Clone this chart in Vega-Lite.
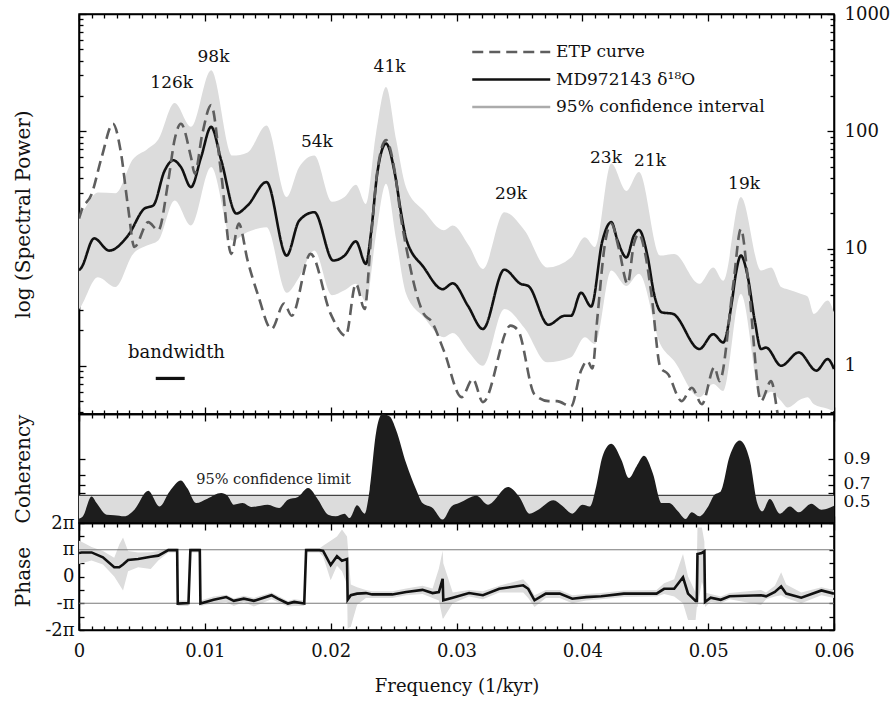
{
"$schema": "https://vega.github.io/schema/vega-lite/v6.json",
"padding": {"left": 12, "top": 4, "right": 5, "bottom": 5},
"spacing": 0,
"bounds": "flush",
"background": "white",
"config": {
  "font": "DejaVu Serif",
  "view": {"stroke": "#000", "strokeWidth": 1.5},
  "axis": {"grid": false, "domain": true, "domainColor": "#000", "domainWidth": 1.6, "tickColor": "#000", "tickWidth": 1.3, "labelFont": "DejaVu Serif", "labelFontSize": 18, "labelColor": "#111", "titleFont": "DejaVu Serif", "titleFontSize": 20, "titleFontWeight": "normal", "titleColor": "#111", "labelOverlap": false, "labelBound": false, "labelFlush": false, "zindex": 1},
  "legend": {"labelFont": "DejaVu Serif"}
},
"datasets": {
  "band": [
    {"f":0,"lo":3.0,"hi":19},{"f":0.0002,"lo":3.26,"hi":20},{"f":0.0015,"lo":5.7,"hi":30},{"f":0.0029,"lo":4.7,"hi":29.6},{"f":0.0043,"lo":9.0,"hi":58},{"f":0.0054,"lo":10.6,"hi":70},{"f":0.0063,"lo":11.7,"hi":85},{"f":0.0076,"lo":25.7,"hi":174},{"f":0.0089,"lo":15.7,"hi":109},{"f":0.0105,"lo":49.5,"hi":332},{"f":0.0122,"lo":11.7,"hi":62},{"f":0.0134,"lo":13.8,"hi":66},{"f":0.0149,"lo":15.2,"hi":112},{"f":0.0165,"lo":4.2,"hi":27.5},{"f":0.0175,"lo":5.7,"hi":49.5},{"f":0.0187,"lo":9.6,"hi":62},{"f":0.0201,"lo":4.0,"hi":25},{"f":0.0211,"lo":4.4,"hi":27.5},{"f":0.022,"lo":5.0,"hi":35},{"f":0.0228,"lo":3.5,"hi":24},{"f":0.0236,"lo":13,"hi":95},{"f":0.0244,"lo":35.6,"hi":239},{"f":0.0252,"lo":12,"hi":85},{"f":0.026,"lo":4.1,"hi":33},{"f":0.0274,"lo":2.6,"hi":21},{"f":0.029,"lo":1.75,"hi":14.3},{"f":0.0297,"lo":1.9,"hi":15.7},{"f":0.031,"lo":1.3,"hi":10.5},{"f":0.0321,"lo":1.0,"hi":6.7},{"f":0.0338,"lo":3.05,"hi":20.4},{"f":0.0354,"lo":2.1,"hi":14.3},{"f":0.0372,"lo":1.07,"hi":6.9},{"f":0.0391,"lo":1.18,"hi":8.4},{"f":0.0402,"lo":1.75,"hi":12.5},{"f":0.041,"lo":1.53,"hi":10.3},{"f":0.0423,"lo":6.5,"hi":53},{"f":0.0435,"lo":4.8,"hi":31},{"f":0.0445,"lo":6.1,"hi":45},{"f":0.0462,"lo":1.53,"hi":8.7},{"f":0.0473,"lo":1.1,"hi":9.0},{"f":0.0493,"lo":0.54,"hi":5.0},{"f":0.0504,"lo":0.7,"hi":6.9},{"f":0.0512,"lo":0.61,"hi":5.3},{"f":0.0526,"lo":4.1,"hi":27.5},{"f":0.0542,"lo":0.54,"hi":6.5},{"f":0.055,"lo":0.6,"hi":6.9},{"f":0.0558,"lo":0.5,"hi":4.7},{"f":0.0563,"lo":0.44,"hi":4.5},{"f":0.0574,"lo":0.52,"hi":4.1},{"f":0.0579,"lo":0.54,"hi":3.9},{"f":0.0584,"lo":0.47,"hi":2.77},{"f":0.0595,"lo":0.43,"hi":3.6},{"f":0.06,"lo":0.41,"hi":2.86}
  ],
  "spec": [
    {"s":"MD972143 δ¹⁸O","f":0,"P":6.5},{"s":"MD972143 δ¹⁸O","f":0.0002,"P":6.9},{"s":"MD972143 δ¹⁸O","f":0.0012,"P":12.2},{"s":"MD972143 δ¹⁸O","f":0.0024,"P":9.6},{"s":"MD972143 δ¹⁸O","f":0.0039,"P":12.9},{"s":"MD972143 δ¹⁸O","f":0.0052,"P":21.9},{"s":"MD972143 δ¹⁸O","f":0.0059,"P":23.3},{"s":"MD972143 δ¹⁸O","f":0.0068,"P":46},{"s":"MD972143 δ¹⁸O","f":0.0075,"P":56.6},{"s":"MD972143 δ¹⁸O","f":0.0081,"P":49.5},{"s":"MD972143 δ¹⁸O","f":0.0089,"P":33.4},{"s":"MD972143 δ¹⁸O","f":0.0097,"P":60},{"s":"MD972143 δ¹⁸O","f":0.0105,"P":109},{"s":"MD972143 δ¹⁸O","f":0.0113,"P":56.6},{"s":"MD972143 δ¹⁸O","f":0.0125,"P":19.9},{"s":"MD972143 δ¹⁸O","f":0.0134,"P":23.3},{"s":"MD972143 δ¹⁸O","f":0.0149,"P":36.9},{"s":"MD972143 δ¹⁸O","f":0.0165,"P":8.7},{"s":"MD972143 δ¹⁸O","f":0.0175,"P":17.3},{"s":"MD972143 δ¹⁸O","f":0.0187,"P":20.4},{"s":"MD972143 δ¹⁸O","f":0.0202,"P":7.9},{"s":"MD972143 δ¹⁸O","f":0.0211,"P":8.7},{"s":"MD972143 δ¹⁸O","f":0.022,"P":11.5},{"s":"MD972143 δ¹⁸O","f":0.0228,"P":7.4},{"s":"MD972143 δ¹⁸O","f":0.0232,"P":13.4},{"s":"MD972143 δ¹⁸O","f":0.0237,"P":43.5},{"s":"MD972143 δ¹⁸O","f":0.0244,"P":78.5},{"s":"MD972143 δ¹⁸O","f":0.0251,"P":43.5},{"s":"MD972143 δ¹⁸O","f":0.0256,"P":20},{"s":"MD972143 δ¹⁸O","f":0.026,"P":12.1},{"s":"MD972143 δ¹⁸O","f":0.0274,"P":6.9},{"s":"MD972143 δ¹⁸O","f":0.0289,"P":4.5},{"s":"MD972143 δ¹⁸O","f":0.0297,"P":5.05},{"s":"MD972143 δ¹⁸O","f":0.0309,"P":3.26},{"s":"MD972143 δ¹⁸O","f":0.0321,"P":2.06},{"s":"MD972143 δ¹⁸O","f":0.0338,"P":6.6},{"s":"MD972143 δ¹⁸O","f":0.0351,"P":5.0},{"s":"MD972143 δ¹⁸O","f":0.0357,"P":4.8},{"s":"MD972143 δ¹⁸O","f":0.0373,"P":2.24},{"s":"MD972143 δ¹⁸O","f":0.0386,"P":2.67},{"s":"MD972143 δ¹⁸O","f":0.0391,"P":2.67},{"s":"MD972143 δ¹⁸O","f":0.0399,"P":4.2},{"s":"MD972143 δ¹⁸O","f":0.0407,"P":3.2},{"s":"MD972143 δ¹⁸O","f":0.0416,"P":11.7},{"s":"MD972143 δ¹⁸O","f":0.0423,"P":16.8},{"s":"MD972143 δ¹⁸O","f":0.0428,"P":11.7},{"s":"MD972143 δ¹⁸O","f":0.0435,"P":8.4},{"s":"MD972143 δ¹⁸O","f":0.0441,"P":12.9},{"s":"MD972143 δ¹⁸O","f":0.0445,"P":14.4},{"s":"MD972143 δ¹⁸O","f":0.0452,"P":8.4},{"s":"MD972143 δ¹⁸O","f":0.0457,"P":4.1},{"s":"MD972143 δ¹⁸O","f":0.0463,"P":2.86},{"s":"MD972143 δ¹⁸O","f":0.0472,"P":2.77},{"s":"MD972143 δ¹⁸O","f":0.0493,"P":1.39},{"s":"MD972143 δ¹⁸O","f":0.0504,"P":1.86},{"s":"MD972143 δ¹⁸O","f":0.0512,"P":1.58},{"s":"MD972143 δ¹⁸O","f":0.0519,"P":3.6},{"s":"MD972143 δ¹⁸O","f":0.0522,"P":6.1},{"s":"MD972143 δ¹⁸O","f":0.0526,"P":8.7},{"s":"MD972143 δ¹⁸O","f":0.0531,"P":6.1},{"s":"MD972143 δ¹⁸O","f":0.0537,"P":2.43},{"s":"MD972143 δ¹⁸O","f":0.0542,"P":1.39},{"s":"MD972143 δ¹⁸O","f":0.0546,"P":1.43},{"s":"MD972143 δ¹⁸O","f":0.0558,"P":1.0},{"s":"MD972143 δ¹⁸O","f":0.0572,"P":1.3},{"s":"MD972143 δ¹⁸O","f":0.0586,"P":0.91},{"s":"MD972143 δ¹⁸O","f":0.0595,"P":1.14},{"s":"MD972143 δ¹⁸O","f":0.06,"P":0.94},
    {"s":"ETP curve","f":0,"P":18},{"s":"ETP curve","f":0.0002,"P":21},{"s":"ETP curve","f":0.001,"P":29},{"s":"ETP curve","f":0.0018,"P":60},{"s":"ETP curve","f":0.0027,"P":116},{"s":"ETP curve","f":0.0033,"P":69},{"s":"ETP curve","f":0.0039,"P":22.5},{"s":"ETP curve","f":0.0044,"P":10.3},{"s":"ETP curve","f":0.0055,"P":16.8},{"s":"ETP curve","f":0.0063,"P":14.3},{"s":"ETP curve","f":0.0071,"P":38},{"s":"ETP curve","f":0.0076,"P":85},{"s":"ETP curve","f":0.0081,"P":116},{"s":"ETP curve","f":0.0089,"P":60},{"s":"ETP curve","f":0.0092,"P":43.5},{"s":"ETP curve","f":0.0098,"P":95},{"s":"ETP curve","f":0.0105,"P":167},{"s":"ETP curve","f":0.0113,"P":43.5},{"s":"ETP curve","f":0.0121,"P":9.0},{"s":"ETP curve","f":0.0127,"P":16.3},{"s":"ETP curve","f":0.0134,"P":7.9},{"s":"ETP curve","f":0.0142,"P":4.1},{"s":"ETP curve","f":0.0153,"P":2.06},{"s":"ETP curve","f":0.0163,"P":3.4},{"s":"ETP curve","f":0.0169,"P":2.67},{"s":"ETP curve","f":0.0184,"P":9.0},{"s":"ETP curve","f":0.02,"P":2.77},{"s":"ETP curve","f":0.0212,"P":1.8},{"s":"ETP curve","f":0.022,"P":5.0},{"s":"ETP curve","f":0.0227,"P":3.05},{"s":"ETP curve","f":0.0232,"P":12},{"s":"ETP curve","f":0.0237,"P":45},{"s":"ETP curve","f":0.0244,"P":84},{"s":"ETP curve","f":0.0251,"P":45},{"s":"ETP curve","f":0.0256,"P":18},{"s":"ETP curve","f":0.026,"P":10.3},{"s":"ETP curve","f":0.0274,"P":2.77},{"s":"ETP curve","f":0.028,"P":2.4},{"s":"ETP curve","f":0.029,"P":1.34},{"s":"ETP curve","f":0.0304,"P":0.54},{"s":"ETP curve","f":0.0313,"P":0.77},{"s":"ETP curve","f":0.0321,"P":0.49},{"s":"ETP curve","f":0.0343,"P":2.2},{"s":"ETP curve","f":0.0349,"P":2.0},{"s":"ETP curve","f":0.0362,"P":0.57},{"s":"ETP curve","f":0.0373,"P":0.5},{"s":"ETP curve","f":0.038,"P":0.5},{"s":"ETP curve","f":0.0391,"P":0.45},{"s":"ETP curve","f":0.0399,"P":0.91},{"s":"ETP curve","f":0.0404,"P":1.1},{"s":"ETP curve","f":0.0408,"P":0.95},{"s":"ETP curve","f":0.0412,"P":2.6},{"s":"ETP curve","f":0.0418,"P":11},{"s":"ETP curve","f":0.0423,"P":16.3},{"s":"ETP curve","f":0.0429,"P":10},{"s":"ETP curve","f":0.0436,"P":5.0},{"s":"ETP curve","f":0.0441,"P":11},{"s":"ETP curve","f":0.0445,"P":13.3},{"s":"ETP curve","f":0.045,"P":9},{"s":"ETP curve","f":0.0455,"P":4},{"s":"ETP curve","f":0.0462,"P":0.97},{"s":"ETP curve","f":0.0468,"P":0.85},{"s":"ETP curve","f":0.0479,"P":0.5},{"s":"ETP curve","f":0.0487,"P":0.65},{"s":"ETP curve","f":0.0495,"P":0.47},{"s":"ETP curve","f":0.0505,"P":0.97},{"s":"ETP curve","f":0.0509,"P":0.74},{"s":"ETP curve","f":0.052,"P":5},{"s":"ETP curve","f":0.0526,"P":14.7},{"s":"ETP curve","f":0.0532,"P":5},{"s":"ETP curve","f":0.0542,"P":0.5},{"s":"ETP curve","f":0.055,"P":0.74},{"s":"ETP curve","f":0.0556,"P":0.35},{"s":"ETP curve","f":0.0565,"P":0.15},{"s":"ETP curve","f":0.06,"P":0.1}
  ],
  "peaks": [
    {"label":"126k","f":0.00737,"P":257},{"label":"98k","f":0.01069,"P":429},{"label":"54k","f":0.01891,"P":80.5},{"label":"41k","f":0.02468,"P":352},{"label":"29k","f":0.03433,"P":29},{"label":"23k","f":0.04188,"P":59.4},{"label":"21k","f":0.04538,"P":55.4},{"label":"19k","f":0.05285,"P":35.6}
  ],
  "bw": [{"label":"bandwidth","f":0.00775,"P":1.29,"f1":0.0061,"f2":0.0084,"Pb":0.78}],
  "coh": [
    {"f":0,"z":0.1},{"f":0.0003,"z":0.15},{"f":0.001,"z":0.61},{"f":0.0014,"z":0.46},{"f":0.0022,"z":0.19},{"f":0.0028,"z":0.176},{"f":0.0036,"z":0.153},{"f":0.0044,"z":0.306},{"f":0.0055,"z":0.74},{"f":0.0064,"z":0.38},{"f":0.0072,"z":0.725},{"f":0.0081,"z":0.976},{"f":0.0086,"z":0.8},{"f":0.0093,"z":0.457},{"f":0.0102,"z":0.558},{"f":0.0113,"z":0.686},{"f":0.0118,"z":0.626},{"f":0.0123,"z":0.42},{"f":0.013,"z":0.457},{"f":0.0137,"z":0.366},{"f":0.015,"z":0.42},{"f":0.0159,"z":0.343},{"f":0.0166,"z":0.535},{"f":0.0174,"z":0.594},{"f":0.0182,"z":0.8},{"f":0.019,"z":0.535},{"f":0.0198,"z":0.19},{"f":0.0204,"z":0.153},{"f":0.0211,"z":0.215},{"f":0.0215,"z":0.114},{"f":0.0221,"z":0.405},{"f":0.0227,"z":0.215},{"f":0.0231,"z":0.764},{"f":0.0236,"z":2.06},{"f":0.0241,"z":2.5},{"f":0.0247,"z":2.44},{"f":0.0252,"z":2.135},{"f":0.026,"z":1.37},{"f":0.0268,"z":0.764},{"f":0.0273,"z":0.457},{"f":0.0281,"z":0.343},{"f":0.0289,"z":0.078},{"f":0.0296,"z":0.38},{"f":0.0302,"z":0.457},{"f":0.0316,"z":0.626},{"f":0.0325,"z":0.42},{"f":0.0341,"z":0.823},{"f":0.035,"z":0.594},{"f":0.0358,"z":0.215},{"f":0.0365,"z":0.306},{"f":0.0377,"z":0.52},{"f":0.0384,"z":0.398},{"f":0.0392,"z":0.215},{"f":0.04,"z":0.42},{"f":0.0406,"z":0.38},{"f":0.0411,"z":0.84},{"f":0.0416,"z":1.525},{"f":0.0423,"z":1.815},{"f":0.0431,"z":1.45},{"f":0.0437,"z":1.03},{"f":0.0443,"z":1.296},{"f":0.0449,"z":1.54},{"f":0.0456,"z":1.143},{"f":0.0463,"z":0.457},{"f":0.0469,"z":0.457},{"f":0.0476,"z":0.267},{"f":0.0482,"z":0.092},{"f":0.0487,"z":0.245},{"f":0.0493,"z":0.153},{"f":0.05,"z":0.38},{"f":0.0505,"z":0.65},{"f":0.051,"z":0.725},{"f":0.0517,"z":1.525},{"f":0.0525,"z":1.89},{"f":0.0533,"z":1.45},{"f":0.0539,"z":0.457},{"f":0.0543,"z":0.267},{"f":0.0549,"z":0.55},{"f":0.0557,"z":0.215},{"f":0.0565,"z":0.38},{"f":0.0572,"z":0.245},{"f":0.0582,"z":0.443},{"f":0.059,"z":0.306},{"f":0.06,"z":0.398}
  ],
  "climit": [{"f":0,"z":0.633},{"f":0.06,"z":0.633}],
  "clabel": [{"label":"95% confidence limit","f":0.01546,"z":0.976}],
  "phase": [
    {"f":0,"p":0.88,"lo":0.47,"hi":1.34},{"f":0.0002,"p":0.9,"lo":0.5,"hi":1.3},{"f":0.001,"p":0.9,"lo":0.6,"hi":1.1},{"f":0.0019,"p":0.715,"lo":0.45,"hi":0.95},{"f":0.0028,"p":0.344,"lo":0.0,"hi":0.7},{"f":0.0032,"p":0.344,"lo":-0.3,"hi":1.2},{"f":0.0035,"p":0.45,"lo":-0.52,"hi":1.46},{"f":0.0039,"p":0.615,"lo":0.2,"hi":0.95},{"f":0.0047,"p":0.652,"lo":0.35,"hi":0.9},{"f":0.0057,"p":0.74,"lo":0.28,"hi":0.91},{"f":0.0063,"p":0.78,"lo":0.6,"hi":0.95},{"f":0.0071,"p":0.985,"lo":0.9,"hi":1.05},{"f":0.0078,"p":0.985,"lo":0.9,"hi":1.05},{"f":0.00785,"p":-1.01,"lo":-1.1,"hi":-0.9},{"f":0.0087,"p":-0.99,"lo":-1.1,"hi":-0.9},{"f":0.00885,"p":0.985,"lo":0.9,"hi":1.05},{"f":0.0096,"p":0.985,"lo":0.9,"hi":1.05},{"f":0.00965,"p":-1.01,"lo":-1.1,"hi":-0.9},{"f":0.0107,"p":-0.87,"lo":-1.0,"hi":-0.75},{"f":0.0117,"p":-0.77,"lo":-0.95,"hi":-0.68},{"f":0.0123,"p":-0.91,"lo":-1.1,"hi":-0.82},{"f":0.0131,"p":-0.83,"lo":-0.95,"hi":-0.72},{"f":0.0139,"p":-0.91,"lo":-1.12,"hi":-0.8},{"f":0.0153,"p":-0.7,"lo":-0.85,"hi":-0.6},{"f":0.0158,"p":-0.83,"lo":-0.95,"hi":-0.72},{"f":0.0166,"p":-1.01,"lo":-1.12,"hi":-0.92},{"f":0.0171,"p":-0.95,"lo":-1.1,"hi":-0.85},{"f":0.0179,"p":-1.01,"lo":-1.1,"hi":-0.9},{"f":0.01805,"p":0.985,"lo":0.9,"hi":1.05},{"f":0.0191,"p":0.985,"lo":0.9,"hi":1.05},{"f":0.0194,"p":0.96,"lo":0.75,"hi":1.15},{"f":0.02,"p":0.43,"lo":-0.14,"hi":1.34},{"f":0.0205,"p":0.76,"lo":0.4,"hi":1.5},{"f":0.0209,"p":0.59,"lo":0.2,"hi":1.76},{"f":0.0213,"p":0.65,"lo":-0.3,"hi":1.5},{"f":0.02135,"p":-0.87,"lo":-1.94,"hi":1.2},{"f":0.0216,"p":-0.7,"lo":-1.88,"hi":-0.3},{"f":0.0221,"p":-0.64,"lo":-1.06,"hi":-0.4},{"f":0.0228,"p":-0.62,"lo":-0.8,"hi":-0.5},{"f":0.0233,"p":-0.67,"lo":-0.8,"hi":-0.55},{"f":0.0249,"p":-0.67,"lo":-0.8,"hi":-0.55},{"f":0.026,"p":-0.58,"lo":-0.7,"hi":-0.45},{"f":0.0273,"p":-0.5,"lo":-0.65,"hi":-0.35},{"f":0.0281,"p":-0.62,"lo":-0.8,"hi":-0.45},{"f":0.0286,"p":-0.58,"lo":-0.9,"hi":0.3},{"f":0.0289,"p":-0.09,"lo":-1.57,"hi":0.96},{"f":0.02895,"p":-0.89,"lo":-1.57,"hi":0.5},{"f":0.0297,"p":-0.79,"lo":-1.0,"hi":-0.6},{"f":0.031,"p":-0.62,"lo":-0.75,"hi":-0.5},{"f":0.0321,"p":-0.7,"lo":-0.85,"hi":-0.55},{"f":0.0334,"p":-0.46,"lo":-0.6,"hi":-0.35},{"f":0.0353,"p":-0.33,"lo":-0.6,"hi":-0.1},{"f":0.0357,"p":-0.46,"lo":-0.8,"hi":-0.3},{"f":0.0362,"p":-0.89,"lo":-1.14,"hi":-0.7},{"f":0.0371,"p":-0.64,"lo":-0.8,"hi":-0.5},{"f":0.0382,"p":-0.64,"lo":-0.8,"hi":-0.5},{"f":0.0392,"p":-0.83,"lo":-1.0,"hi":-0.7},{"f":0.0403,"p":-0.77,"lo":-0.9,"hi":-0.65},{"f":0.0415,"p":-0.74,"lo":-0.85,"hi":-0.62},{"f":0.0433,"p":-0.64,"lo":-0.77,"hi":-0.52},{"f":0.0459,"p":-0.64,"lo":-0.75,"hi":-0.5},{"f":0.0465,"p":-0.46,"lo":-0.65,"hi":-0.25},{"f":0.0473,"p":-0.46,"lo":-0.75,"hi":-0.1},{"f":0.048,"p":-0.03,"lo":-1.0,"hi":0.84},{"f":0.0484,"p":-0.64,"lo":-1.63,"hi":0.0},{"f":0.049,"p":-0.91,"lo":-1.63,"hi":-0.6},{"f":0.0491,"p":-0.91,"lo":-1.14,"hi":0.5},{"f":0.04915,"p":0.84,"lo":-1.14,"hi":1.83},{"f":0.0495,"p":0.88,"lo":-0.2,"hi":1.83},{"f":0.0497,"p":0.94,"lo":-0.5,"hi":1.3},{"f":0.04975,"p":-0.95,"lo":-1.14,"hi":-0.6},{"f":0.0502,"p":-0.79,"lo":-0.95,"hi":-0.65},{"f":0.051,"p":-0.87,"lo":-1.0,"hi":-0.75},{"f":0.0517,"p":-0.74,"lo":-0.85,"hi":-0.62},{"f":0.0542,"p":-0.7,"lo":-1.07,"hi":-0.5},{"f":0.0546,"p":-0.74,"lo":-0.85,"hi":-0.6},{"f":0.0553,"p":-0.58,"lo":-0.75,"hi":-0.35},{"f":0.0558,"p":-0.37,"lo":-0.7,"hi":0.16},{"f":0.0562,"p":-0.64,"lo":-0.8,"hi":-0.3},{"f":0.0574,"p":-0.79,"lo":-1.0,"hi":-0.6},{"f":0.059,"p":-0.52,"lo":-0.7,"hi":-0.4},{"f":0.06,"p":-0.64,"lo":-0.8,"hi":-0.5}
  ],
  "pirules": [{"p":1},{"p":-1}]
},
"vconcat": [
  {
    "width": 755, "height": 400,
    "layer": [
      {"data": {"name": "band"},
       "mark": {"type": "area", "fill": "#dcdcdc", "interpolate": "monotone", "clip": true},
       "encoding": {
         "x": {"field": "f", "type": "quantitative", "scale": {"domain": [0, 0.06], "nice": false, "zero": false},
               "axis": {"orient": "bottom", "values": [0,0.001,0.002,0.003,0.004,0.005,0.006,0.007,0.008,0.009,0.01,0.011,0.012,0.013,0.014,0.015,0.016,0.017,0.018,0.019,0.02,0.021,0.022,0.023,0.024,0.025,0.026,0.027,0.028,0.029,0.03,0.031,0.032,0.033,0.034,0.035,0.036,0.037,0.038,0.039,0.04,0.041,0.042,0.043,0.044,0.045,0.046,0.047,0.048,0.049,0.05,0.051,0.052,0.053,0.054,0.055,0.056,0.057,0.058,0.059,0.06], "labels": false, "title": null,
                        "tickSize": {"condition": {"test": "abs(datum.value*100 - round(datum.value*100)) < 0.000001", "value": -7}, "value": -4}}},
         "y": {"field": "lo", "type": "quantitative", "scale": {"type": "log", "domain": [0.388, 1000], "nice": false},
               "axis": {"orient": "left", "values": [0.4,0.5,0.6,0.7,0.8,0.9,1,2,3,4,5,6,7,8,9,10,20,30,40,50,60,70,80,90,100,200,300,400,500,600,700,800,900,1000], "labels": false,
                        "title": "log (Spectral Power)", "titleX": -55.5, "titleY": 200, "titleBaseline": "middle", "titleAlign": "center",
                        "tickSize": {"condition": {"test": "indexof([1,10,100,1000], datum.value) >= 0", "value": -7}, "value": -4}}},
         "y2": {"field": "hi"}
       }},
      {"data": {"name": "spec"},
       "mark": {"type": "line", "interpolate": "monotone", "clip": true, "strokeWidth": 2.6},
       "encoding": {
         "x": {"field": "f", "type": "quantitative", "scale": {"domain": [0, 0.06], "nice": false, "zero": false},
               "axis": {"orient": "top", "values": [0,0.001,0.002,0.003,0.004,0.005,0.006,0.007,0.008,0.009,0.01,0.011,0.012,0.013,0.014,0.015,0.016,0.017,0.018,0.019,0.02,0.021,0.022,0.023,0.024,0.025,0.026,0.027,0.028,0.029,0.03,0.031,0.032,0.033,0.034,0.035,0.036,0.037,0.038,0.039,0.04,0.041,0.042,0.043,0.044,0.045,0.046,0.047,0.048,0.049,0.05,0.051,0.052,0.053,0.054,0.055,0.056,0.057,0.058,0.059,0.06], "labels": false, "title": null,
                        "tickSize": {"condition": {"test": "abs(datum.value*100 - round(datum.value*100)) < 0.000001", "value": -7}, "value": -4}}},
         "y": {"field": "P", "type": "quantitative", "scale": {"type": "log", "domain": [0.388, 1000], "nice": false},
               "axis": {"orient": "right", "values": [0.4,0.5,0.6,0.7,0.8,0.9,1,2,3,4,5,6,7,8,9,10,20,30,40,50,60,70,80,90,100,200,300,400,500,600,700,800,900,1000],
                        "labelExpr": "indexof([1,10,100,1000], datum.value) >= 0 ? format(datum.value, 'd') : ''", "labelPadding": 17, "title": null,
                        "tickSize": {"condition": {"test": "indexof([1,10,100,1000], datum.value) >= 0", "value": -7}, "value": -4}}},
         "color": {"field": "s", "type": "nominal",
                   "scale": {"domain": ["ETP curve", "MD972143 δ¹⁸O", "95% confidence interval"], "range": ["#5e5e5e", "#111111", "#ababab"]},
                   "legend": {"orient": "none", "legendX": 392, "legendY": 27, "title": null, "padding": 0, "symbolType": "M-1,0H7", "symbolSize": 380, "symbolStrokeWidth": 2.5, "labelFontSize": 17, "labelColor": "#111", "labelOffset": 63, "rowPadding": 8.5, "labelLimit": 400}},
         "strokeDash": {"field": "s", "type": "nominal",
                   "scale": {"domain": ["ETP curve", "MD972143 δ¹⁸O", "95% confidence interval"], "range": [[11, 6], [1, 0], [1, 0]]},
                   "legend": {"orient": "none", "legendX": 392, "legendY": 27, "title": null, "padding": 0, "symbolType": "M-1,0H7", "symbolSize": 380, "symbolStrokeWidth": 2.5, "labelFontSize": 17, "labelColor": "#111", "labelOffset": 63, "rowPadding": 8.5, "labelLimit": 400}}
       }},
      {"data": {"name": "peaks"},
       "mark": {"type": "text", "fontSize": 17, "color": "#111", "align": "center", "baseline": "middle"},
       "encoding": {
         "x": {"field": "f", "type": "quantitative", "scale": {"domain": [0, 0.06], "nice": false, "zero": false}, "axis": null},
         "y": {"field": "P", "type": "quantitative", "scale": {"type": "log", "domain": [0.388, 1000], "nice": false}, "axis": null},
         "text": {"field": "label"}
       }},
      {"data": {"name": "bw"},
       "mark": {"type": "text", "fontSize": 18, "color": "#111", "align": "center", "baseline": "middle"},
       "encoding": {
         "x": {"field": "f", "type": "quantitative", "scale": {"domain": [0, 0.06], "nice": false, "zero": false}, "axis": null},
         "y": {"field": "P", "type": "quantitative", "scale": {"type": "log", "domain": [0.388, 1000], "nice": false}, "axis": null},
         "text": {"field": "label"}
       }},
      {"data": {"name": "bw"},
       "mark": {"type": "rule", "strokeWidth": 3.2, "color": "#111"},
       "encoding": {
         "x": {"field": "f1", "type": "quantitative", "scale": {"domain": [0, 0.06], "nice": false, "zero": false}, "axis": null},
         "x2": {"field": "f2"},
         "y": {"field": "Pb", "type": "quantitative", "scale": {"type": "log", "domain": [0.388, 1000], "nice": false}, "axis": null}
       }}
    ],
    "resolve": {"axis": {"x": "independent", "y": "independent"}}
  },
  {
    "width": 755, "height": 109,
    "layer": [
      {"data": {"name": "climit"},
       "mark": {"type": "area", "fill": "#dcdcdc"},
       "encoding": {
         "x": {"field": "f", "type": "quantitative", "scale": {"domain": [0, 0.06], "nice": false, "zero": false},
               "axis": {"orient": "bottom", "values": [0,0.001,0.002,0.003,0.004,0.005,0.006,0.007,0.008,0.009,0.01,0.011,0.012,0.013,0.014,0.015,0.016,0.017,0.018,0.019,0.02,0.021,0.022,0.023,0.024,0.025,0.026,0.027,0.028,0.029,0.03,0.031,0.032,0.033,0.034,0.035,0.036,0.037,0.038,0.039,0.04,0.041,0.042,0.043,0.044,0.045,0.046,0.047,0.048,0.049,0.05,0.051,0.052,0.053,0.054,0.055,0.056,0.057,0.058,0.059,0.06], "labels": false, "title": null,
                        "tickSize": {"condition": {"test": "abs(datum.value*100 - round(datum.value*100)) < 0.000001", "value": -7}, "value": -4}}},
         "y": {"field": "z", "type": "quantitative", "scale": {"domain": [0, 2.5], "nice": false, "zero": false},
               "axis": {"orient": "left", "values": [0.5493, 0.6931, 0.8673, 1.0986, 1.4722], "labels": false, "title": "Coherency", "titleX": -55.5, "titleY": 54.5, "titleBaseline": "middle", "titleAlign": "center", "tickSize": -6}},
         "y2": {"datum": 0}
       }},
      {"data": {"name": "climit"},
       "mark": {"type": "line", "color": "#444", "strokeWidth": 1.4},
       "encoding": {
         "x": {"field": "f", "type": "quantitative", "scale": {"domain": [0, 0.06], "nice": false, "zero": false}, "axis": null},
         "y": {"field": "z", "type": "quantitative", "scale": {"domain": [0, 2.5], "nice": false, "zero": false}, "axis": null}
       }},
      {"data": {"name": "coh"},
       "mark": {"type": "area", "fill": "#1d1d1d", "interpolate": "monotone", "clip": true},
       "encoding": {
         "x": {"field": "f", "type": "quantitative", "scale": {"domain": [0, 0.06], "nice": false, "zero": false},
               "axis": {"orient": "top", "values": [0,0.001,0.002,0.003,0.004,0.005,0.006,0.007,0.008,0.009,0.01,0.011,0.012,0.013,0.014,0.015,0.016,0.017,0.018,0.019,0.02,0.021,0.022,0.023,0.024,0.025,0.026,0.027,0.028,0.029,0.03,0.031,0.032,0.033,0.034,0.035,0.036,0.037,0.038,0.039,0.04,0.041,0.042,0.043,0.044,0.045,0.046,0.047,0.048,0.049,0.05,0.051,0.052,0.053,0.054,0.055,0.056,0.057,0.058,0.059,0.06], "labels": false, "title": null,
                        "tickSize": {"condition": {"test": "abs(datum.value*100 - round(datum.value*100)) < 0.000001", "value": -7}, "value": -4}}},
         "y": {"field": "z", "type": "quantitative", "scale": {"domain": [0, 2.5], "nice": false, "zero": false},
               "axis": {"orient": "right", "values": [0.5493, 0.6931, 0.8673, 1.0986, 1.4722],
                        "labelExpr": "abs(datum.value - 1.4722) < 0.001 ? '0.9' : abs(datum.value - 0.8673) < 0.001 ? '0.7' : abs(datum.value - 0.5493) < 0.001 ? '0.5' : ''",
                        "labelFontSize": 17,
                        "labelOffset": {"condition": [{"test": "abs(datum.value - 0.8673) < 0.001", "value": -2}, {"test": "abs(datum.value - 0.5493) < 0.001", "value": 2.5}], "value": 0},
                        "labelPadding": 15, "title": null, "tickSize": -6}},
         "y2": {"datum": 0}
       }},
      {"data": {"name": "clabel"},
       "mark": {"type": "text", "fontSize": 14.5, "color": "#222", "align": "center", "baseline": "middle"},
       "encoding": {
         "x": {"field": "f", "type": "quantitative", "scale": {"domain": [0, 0.06], "nice": false, "zero": false}, "axis": null},
         "y": {"field": "z", "type": "quantitative", "scale": {"domain": [0, 2.5], "nice": false, "zero": false}, "axis": null},
         "text": {"field": "label"}
       }}
    ],
    "resolve": {"axis": {"x": "independent", "y": "independent"}}
  },
  {
    "width": 755, "height": 107,
    "layer": [
      {"data": {"name": "phase"},
       "mark": {"type": "area", "fill": "#dcdcdc", "clip": true},
       "encoding": {
         "x": {"field": "f", "type": "quantitative", "scale": {"domain": [0, 0.06], "nice": false, "zero": false},
               "axis": {"orient": "bottom", "values": [0,0.001,0.002,0.003,0.004,0.005,0.006,0.007,0.008,0.009,0.01,0.011,0.012,0.013,0.014,0.015,0.016,0.017,0.018,0.019,0.02,0.021,0.022,0.023,0.024,0.025,0.026,0.027,0.028,0.029,0.03,0.031,0.032,0.033,0.034,0.035,0.036,0.037,0.038,0.039,0.04,0.041,0.042,0.043,0.044,0.045,0.046,0.047,0.048,0.049,0.05,0.051,0.052,0.053,0.054,0.055,0.056,0.057,0.058,0.059,0.06],
                        "labelExpr": "abs(datum.value*100 - round(datum.value*100)) < 0.000001 ? format(datum.value, '.2~f') : ''",
                        "labelPadding": 19, "title": "Frequency (1/kyr)", "titleFontSize": 18, "titlePadding": 14,
                        "tickSize": {"condition": {"test": "abs(datum.value*100 - round(datum.value*100)) < 0.000001", "value": -7}, "value": -4}}},
         "y": {"field": "lo", "type": "quantitative", "scale": {"domain": [-2, 2], "nice": false, "zero": false},
               "axis": {"orient": "left", "values": [-2, -1.5, -1, -0.5, 0, 0.5, 1, 1.5, 2],
                        "labelExpr": "datum.value == 2 ? '2π' : datum.value == 1 ? 'π' : datum.value == 0 ? '0' : datum.value == -1 ? '-π' : datum.value == -2 ? '-2π' : ''",
                        "labelPadding": 10, "title": "Phase", "titleX": -55.5, "titleY": 53.5, "titleBaseline": "middle", "titleAlign": "center", "tickSize": -5}},
         "y2": {"field": "hi"}
       }},
      {"data": {"name": "pirules"},
       "mark": {"type": "rule", "color": "#7a7a7a", "strokeWidth": 1.2},
       "encoding": {
         "y": {"field": "p", "type": "quantitative", "scale": {"domain": [-2, 2], "nice": false, "zero": false}, "axis": null}
       }},
      {"data": {"name": "phase"},
       "mark": {"type": "line", "color": "#111", "strokeWidth": 2.6, "clip": true},
       "encoding": {
         "x": {"field": "f", "type": "quantitative", "scale": {"domain": [0, 0.06], "nice": false, "zero": false},
               "axis": {"orient": "top", "values": [0,0.001,0.002,0.003,0.004,0.005,0.006,0.007,0.008,0.009,0.01,0.011,0.012,0.013,0.014,0.015,0.016,0.017,0.018,0.019,0.02,0.021,0.022,0.023,0.024,0.025,0.026,0.027,0.028,0.029,0.03,0.031,0.032,0.033,0.034,0.035,0.036,0.037,0.038,0.039,0.04,0.041,0.042,0.043,0.044,0.045,0.046,0.047,0.048,0.049,0.05,0.051,0.052,0.053,0.054,0.055,0.056,0.057,0.058,0.059,0.06], "labels": false, "title": null,
                        "tickSize": {"condition": {"test": "abs(datum.value*100 - round(datum.value*100)) < 0.000001", "value": -7}, "value": -4}}},
         "y": {"field": "p", "type": "quantitative", "scale": {"domain": [-2, 2], "nice": false, "zero": false},
               "axis": {"orient": "right", "values": [-2, -1.5, -1, -0.5, 0, 0.5, 1, 1.5, 2], "labels": false, "title": null, "tickSize": -5}}
       }}
    ],
    "resolve": {"axis": {"x": "independent", "y": "independent"}}
  }
]
}
